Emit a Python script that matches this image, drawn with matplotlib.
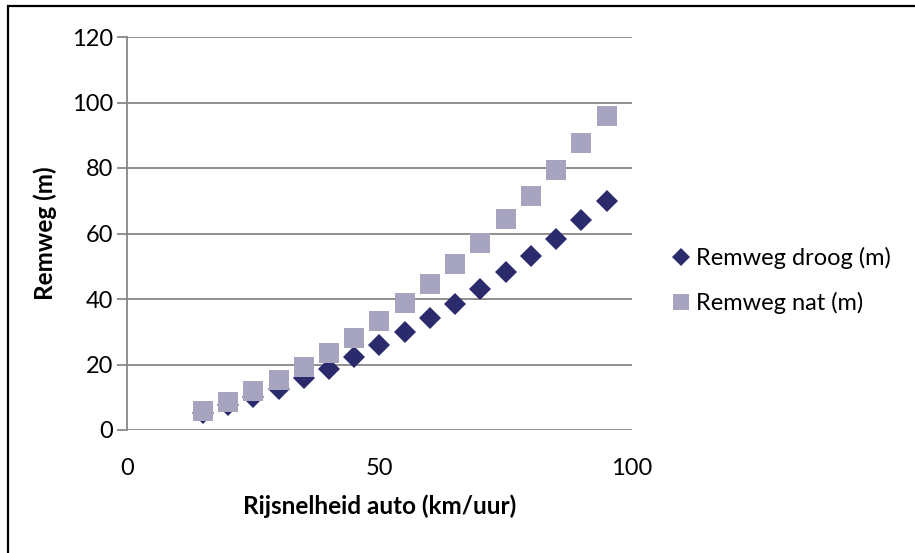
import matplotlib.pyplot as plt
from matplotlib.patches import Rectangle

plt.rcParams['font.family'] = ['Lato', 'DejaVu Sans']

# data
snelheid = [15, 20, 25, 30, 35, 40, 45, 50, 55, 60, 65, 70, 75, 80, 85, 90, 95]
remweg_droog = [5.3, 7.5, 10.0, 12.6, 16.0, 18.7, 22.2, 25.9, 30.0, 34.2, 38.4, 43.1, 48.1, 53.2, 58.4, 64.1, 69.9]
remweg_nat = [5.9, 8.6, 11.8, 15.3, 19.1, 23.4, 28.0, 33.3, 38.7, 44.5, 50.6, 57.2, 64.3, 71.6, 79.3, 87.5, 95.9]

fig = plt.figure(figsize=(9.15, 5.53), dpi=100)
ax = fig.add_axes([127/915, 123/553, 505/915, 393/553])

# chart border (only top and left visible in the reference)
fig.patches.append(Rectangle((8/915, -0.1), 1.2, (553-6)/553 + 0.1, transform=fig.transFigure,
                             fill=False, edgecolor='black', linewidth=1.6, zorder=0))

ax.plot(snelheid, remweg_droog, linestyle='none', marker='D', markersize=11.5,
        color='#2B2A6C', markeredgewidth=0, label='Remweg droog (m)', zorder=3)
ax.plot(snelheid, remweg_nat, linestyle='none', marker='s', markersize=14.5,
        color='#A6A4BF', markeredgewidth=0, label='Remweg nat (m)', zorder=4)

ax.set_xlim(0, 100)
ax.set_ylim(0, 120)
ax.set_xticks([0, 50, 100])
ax.set_yticks(range(0, 121, 20))
ax.grid(axis='y', color='#878787', linewidth=1.3)
ax.set_axisbelow(True)

for side in ['top', 'right', 'bottom']:
    ax.spines[side].set_visible(False)
ax.spines['left'].set_color('#878787')
ax.spines['left'].set_linewidth(1.3)
ax.tick_params(axis='y', length=7, width=1.3, color='#878787', labelsize=17, pad=3)
ax.tick_params(axis='x', length=0, labelsize=17, pad=20)

ax.set_xlabel('Rijsnelheid auto (km/uur)', fontsize=17.5, fontweight='bold', labelpad=11)
ax.set_ylabel('Remweg (m)', fontsize=17.5, fontweight='bold', labelpad=11)

ax.legend(loc='center left', bbox_to_anchor=(1.036, 0.38), frameon=False, fontsize=17,
          handlelength=0.8, handletextpad=0.25, labelspacing=0.95, markerscale=0.8)

fig.savefig('out.png', dpi=100)
